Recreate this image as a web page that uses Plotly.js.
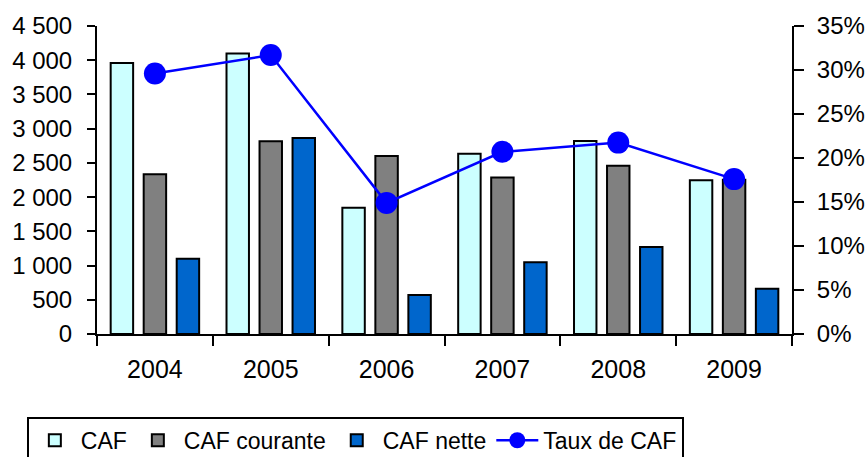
<!DOCTYPE html>
<html>
<head>
<meta charset="utf-8">
<script src="https://cdn.plot.ly/plotly-3.0.1.min.js"></script>
<style>html,body{margin:0;padding:0;background:#fff;}#chart{width:866px;height:457px;}</style>
</head>
<body>
<div id="chart"></div>
<script>
var years = ['2004', '2005', '2006', '2007', '2008', '2009'];
var caf = [3960, 4100, 1845, 2635, 2820, 2245];
var cafCourante = [2335, 2815, 2600, 2285, 2460, 2255];
var cafNette = [1100, 2865, 570, 1050, 1270, 660];
var tauxCaf = [29.6, 31.7, 14.9, 20.7, 21.75, 17.6];
var leftTicks = [0, 500, 1000, 1500, 2000, 2500, 3000, 3500, 4000, 4500];
var leftLabels = ['0', '500', '1 000', '1 500', '2 000', '2 500', '3 000', '3 500', '4 000', '4 500'];
var rightTicks = [0, 5, 10, 15, 20, 25, 30, 35];
var rightLabels = ['0%', '5%', '10%', '15%', '20%', '25%', '30%', '35%'];

var fam = 'Liberation Sans, Arial, sans-serif';
var font = {family: fam, size: 24, color: '#000'};
var barLine = {color: '#000', width: 2};

var traces = [
  {type: 'bar', name: 'CAF', x: years, y: caf, marker: {color: '#CCFFFF', line: barLine}},
  {type: 'bar', name: 'CAF courante', x: years, y: cafCourante, marker: {color: '#808080', line: barLine}},
  {type: 'bar', name: 'CAF nette', x: years, y: cafNette, marker: {color: '#0066CC', line: barLine}},
  {type: 'scatter', mode: 'lines+markers', name: 'Taux de CAF', x: years, y: tauxCaf, yaxis: 'y2',
   line: {color: '#0000FF', width: 2.5}, marker: {color: '#0000FF', size: 22}}
];

var layout = {
  width: 866, height: 457,
  margin: {l: 97, r: 74, t: 26, b: 123},
  paper_bgcolor: '#fff', plot_bgcolor: 'rgba(0,0,0,0)',
  font: font,
  barmode: 'group', bargap: 0.145, bargroupgap: 0.32,
  showlegend: true,
  legend: {orientation: 'h', x: 0.031, xanchor: 'left', xref: 'container',
           yref: 'container', y: 0.088, yanchor: 'top',
           bordercolor: '#000', borderwidth: 2, font: {family: fam, size: 23, color: '#000'},
           itemwidth: 42, traceorder: 'normal'},
  xaxis: {type: 'category', showline: true, linecolor: '#000', linewidth: 2,
          ticks: 'outside', ticklen: 10, tickwidth: 2, tickcolor: '#000', tickson: 'boundaries',
          showgrid: false, zeroline: false, range: [-0.5, 5.5], ticklabelstandoff: 12,
          tickfont: {family: fam, size: 25, color: '#000'}},
  xaxis2: {overlaying: 'x', anchor: 'y', range: [-0.5, 5.5], tick0: -0.5, dtick: 1,
           ticks: 'inside', ticklen: 10, tickwidth: 2, tickcolor: '#000',
           showticklabels: false, showline: false, showgrid: false, zeroline: false},
  yaxis: {range: [0, 4500], tickvals: leftTicks, ticktext: leftLabels,
          showline: true, linecolor: '#000', linewidth: 2,
          ticks: 'outside', ticklen: 8, tickwidth: 2, tickcolor: '#000',
          showgrid: false, zeroline: false, ticklabelstandoff: 10},
  yaxis3: {overlaying: 'y', side: 'left', range: [0, 4500], tickvals: leftTicks,
           ticks: 'inside', ticklen: 8, tickwidth: 2, tickcolor: '#000',
           showticklabels: false, showline: false, showgrid: false, zeroline: false},
  yaxis2: {overlaying: 'y', side: 'right', range: [0, 35], tickvals: rightTicks, ticktext: rightLabels,
           showline: true, linecolor: '#000', linewidth: 2,
           ticks: 'outside', ticklen: 10, tickwidth: 2, tickcolor: '#000',
           showgrid: false, zeroline: false, ticklabelstandoff: 8}
};

Plotly.newPlot('chart', traces, layout, {displayModeBar: false, staticPlot: true});
</script>
</body>
</html>
